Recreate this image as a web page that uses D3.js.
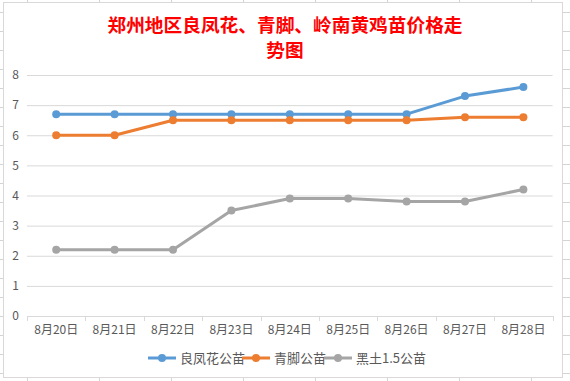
<!DOCTYPE html>
<html>
<head>
<meta charset="utf-8">
<script src="https://cdn.jsdelivr.net/npm/d3@7"></script>
<style>
  body { margin: 0; background: #fff; }
  svg { display: block; }
  text { font-family: "Noto Sans CJK SC", "Noto Sans", sans-serif; }
</style>
</head>
<body>
<div class="chart"></div>
<script>
var dates = ["8月20日", "8月21日", "8月22日", "8月23日", "8月24日", "8月25日", "8月26日", "8月27日", "8月28日"];
var seriesNames = ["良凤花公苗", "青脚公苗", "黑土1.5公苗"];
var liangfenghua = [6.7, 6.7, 6.7, 6.7, 6.7, 6.7, 6.7, 7.3, 7.6];
var qingjiao = [6.0, 6.0, 6.5, 6.5, 6.5, 6.5, 6.5, 6.6, 6.6];
var heitu = [2.2, 2.2, 2.2, 3.5, 3.9, 3.9, 3.8, 3.8, 4.2];
var yTicks = [0, 1, 2, 3, 4, 5, 6, 7, 8];
var titleLines = ["郑州地区良凤花、青脚、岭南黄鸡苗价格走", "势图"];

var colors = ["#5B9BD5", "#ED7D31", "#A5A5A5"];
var series = [liangfenghua, qingjiao, heitu];

var W = 570, H = 381;
var svg = d3.select("div.chart").append("svg")
    .attr("width", W)
    .attr("height", H);

// spreadsheet cells behind the chart
var cellLines = svg.append("g").attr("stroke", "#d4d4d4").attr("stroke-width", 1);
d3.range(27, W, 72).forEach(function (cx) {
    cellLines.append("line").attr("x1", cx + 0.5).attr("x2", cx + 0.5).attr("y1", 0).attr("y2", H);
});
d3.range(12, H, 19).forEach(function (cy) {
    cellLines.append("line").attr("x1", 0).attr("x2", W).attr("y1", cy + 0.5).attr("y2", cy + 0.5);
});

// chart box
svg.append("rect")
    .attr("x", 3.5).attr("y", 2.5)
    .attr("width", 559).attr("height", 375)
    .attr("fill", "#fff")
    .attr("stroke", "#d9d9d9");

// title
svg.append("g").selectAll("text")
    .data(titleLines)
    .enter().append("text")
    .attr("x", 285)
    .attr("y", function (d, i) { return 32 + i * 24.5; })
    .attr("text-anchor", "middle")
    .attr("font-size", "18.7px")
    .attr("font-weight", "bold")
    .attr("fill", "#ff0000")
    .text(function (d) { return d; });

var x = d3.scaleBand()
    .domain(dates)
    .range([27, 552.6])
    .padding(0);
var y = d3.scaleLinear()
    .domain([0, 8])
    .range([316, 75]);

// gridlines + y labels
var yAxis = svg.append("g")
    .attr("transform", "translate(27,0)")
    .call(d3.axisLeft(y).tickValues(yTicks).tickSize(-(552.6 - 27)).tickPadding(8));
yAxis.select(".domain").remove();
yAxis.selectAll(".tick line").attr("stroke", "#d9d9d9");
yAxis.selectAll(".tick text")
    .attr("fill", "#595959")
    .attr("font-size", "12px")
    .attr("font-family", "Calibri, Carlito, 'Noto Sans', sans-serif");

// x axis labels
var xAxis = svg.append("g")
    .attr("transform", "translate(0,316)")
    .call(d3.axisBottom(x).tickSize(0).tickPadding(9));
xAxis.select(".domain").attr("stroke", "#d9d9d9");
xAxis.selectAll(".tick text")
    .attr("fill", "#595959")
    .attr("font-size", "12px");

// tick marks between categories
var bounds = dates.map(function (d) { return x(d); }).concat([x.range()[1]]);
svg.append("g").selectAll("line")
    .data(bounds)
    .enter().append("line")
    .attr("x1", function (d) { return Math.round(d) + 0.5; })
    .attr("x2", function (d) { return Math.round(d) + 0.5; })
    .attr("y1", 316)
    .attr("y2", 321)
    .attr("stroke", "#d9d9d9");

var cx = function (d, i) { return x(dates[i]) + x.bandwidth() / 2; };

var line = d3.line()
    .x(cx)
    .y(function (d) { return y(d); });

series.forEach(function (s, k) {
    svg.append("path")
        .datum(s)
        .attr("d", line)
        .attr("fill", "none")
        .attr("stroke", colors[k])
        .attr("stroke-width", 3)
        .attr("stroke-linejoin", "round")
        .attr("stroke-linecap", "round");
    svg.append("g").selectAll("circle")
        .data(s)
        .enter().append("circle")
        .attr("cx", cx)
        .attr("cy", function (d) { return y(d); })
        .attr("r", 4)
        .attr("fill", colors[k]);
});

// legend
var legendX = [148, 242, 324];
var legend = svg.append("g").selectAll("g")
    .data(seriesNames)
    .enter().append("g")
    .attr("transform", function (d, i) { return "translate(" + legendX[i] + ",358)"; });
legend.append("line")
    .attr("x1", 0).attr("x2", 28)
    .attr("stroke", function (d, i) { return colors[i]; })
    .attr("stroke-width", 3);
legend.append("circle")
    .attr("cx", 14).attr("r", 4)
    .attr("fill", function (d, i) { return colors[i]; });
legend.append("text")
    .attr("x", 32)
    .attr("dy", "0.36em")
    .attr("font-size", "13px")
    .attr("fill", "#595959")
    .text(function (d) { return d; });
</script>
</body>
</html>
